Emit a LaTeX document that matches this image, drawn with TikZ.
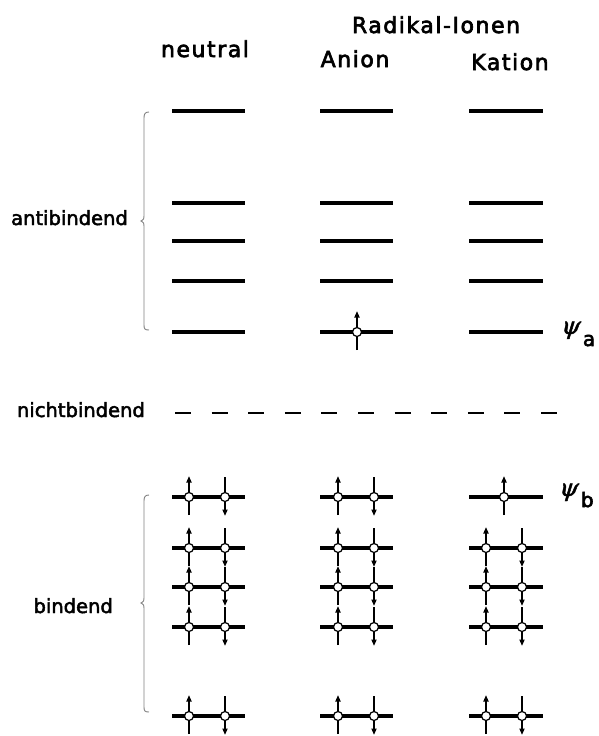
\documentclass[tikz,border=0pt]{standalone}
\usepackage{fontspec}
\setmainfont{DejaVu Sans}[FakeBold=2.4]
\newfontfamily\headfont{DejaVu Sans}[LetterSpace=7,FakeBold=3]
\newfontfamily\subfont{DejaVu Sans}[FakeBold=3]
\newfontfamily\psifont{DejaVu Serif}[FakeSlant=0.3,FakeBold=2]
\usetikzlibrary{arrows.meta}

% paired and single electrons on a level
\newcommand\spinup[2]{%
  \draw[spin,arr] (#1,#2+18) -- (#1,#2-21);
  \node[orb] at (#1,#2) {};}
\newcommand\spindown[2]{%
  \draw[spin,arr] (#1,#2-20) -- (#1,#2+19);
  \node[orb] at (#1,#2) {};}
\newcommand\spinpair[2]{\spinup{#1-18}{#2}\spindown{#1+18}{#2}}

\begin{document}
\begin{tikzpicture}[x=1pt,y=-1pt,
  level/.style={line width=3.2pt},
  spin/.style={line width=1.8pt},
  arr/.style={-{Triangle[length=6.5pt,width=5pt]}},
  orb/.style={circle,draw,fill=white,line width=1.2pt,inner sep=0pt,minimum size=9pt},
  hd/.style={font=\headfont\fontsize{22}{26}\selectfont,anchor=base,inner sep=0pt},
  lab/.style={font=\fontsize{19.5}{23}\selectfont,anchor=base east,inner sep=0pt},
  psi/.style={font=\psifont\fontsize{24}{28}\selectfont,anchor=base west,inner sep=0pt},
  psisub/.style={font=\subfont\fontsize{20}{24}\selectfont,anchor=base west,inner sep=0pt},
  brace/.style={draw=black!50,line width=0.9pt}]
\useasboundingbox (0,0) rectangle (598,736);

% column headings
\node[hd] (neu) at (205,57) {neutral};
\node[hd] (rad) at (436,33) {Radikal-Ionen};
\node[hd] (an)  at (355,67) {Anion};
\node[hd] (kat) at (510,70) {Kation};

% side labels
\node[lab] (anti) at (128,225) {antibindend};
\node[lab] (nb)   at (145,417) {nichtbindend};
\node[lab] (bind) at (113,613) {bindend};

% braces
\draw[brace] (149,112) .. controls (145,112) and (144,114) .. (144,118)
  -- (144,216) .. controls (144,219) .. (141,221) .. controls (144,223) .. (144,226)
  -- (144,325) .. controls (144,329) and (145,330) .. (149,330);
\draw[brace] (149,495) .. controls (145,495) and (144,497) .. (144,501)
  -- (144,598) .. controls (144,601) .. (141,603) .. controls (144,605) .. (144,608)
  -- (144,707) .. controls (144,711) and (145,712) .. (149,712);

% non-bonding level
\draw[line width=2.2pt,dash pattern=on 16pt off 20.6pt] (175,413) -- (560,413);

% energy levels of the three species
\foreach \y in {111,203,241,281,332,497,548,587,627,716} {
  \foreach \a/\b in {172/245,320/393,469/543} {
    \draw[level] (\a,\y) -- (\b,\y);
  }
}

% antibonding electron of the anion
\spinup{357}{332}

% bonding electrons
\foreach \y in {497,548,587,627,716} {
  \spinpair{207}{\y}
  \spinpair{356}{\y}
}
\foreach \y in {548,587,627,716} {
  \spinpair{504}{\y}
}
\spinup{504}{497}

% orbital labels
\node[psi] (pa) at (560,334) {ψ};
\node[psisub] (pas) at (pa.base east) [xshift=3.5pt,yshift=-12pt] {a};
\node[psi] (pb) at (558,496) {ψ};
\node[psisub] (pbs) at (pb.base east) [xshift=3.5pt,yshift=-11pt] {b};
\end{tikzpicture}
\end{document}
